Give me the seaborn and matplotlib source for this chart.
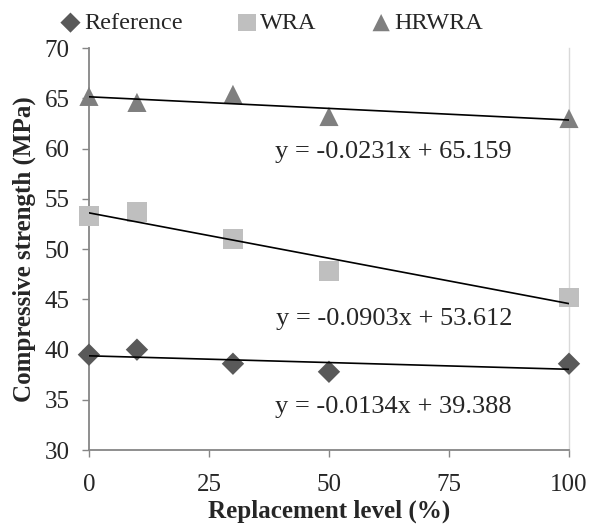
import numpy as np
import pandas as pd
import matplotlib
matplotlib.use("Agg")
import matplotlib.pyplot as plt
import seaborn as sns

# data
levels = [0, 10, 30, 50, 100]
reference = [39.5, 40.0, 38.6, 37.8, 38.6]
wra = [53.3, 53.7, 51.0, 47.8, 45.2]
hrwra = [65.2, 64.6, 65.4, 63.2, 63.0]

# trendline coefficients as printed (slope, intercept)
fits = {
    "Reference": (-0.0134, 39.388),
    "WRA": (-0.0903, 53.612),
    "HRWRA": (-0.0231, 65.159),
}
eq_pos = {"Reference": (63.5, 34.3), "WRA": (63.5, 43.1), "HRWRA": (63.5, 59.7)}

df = pd.DataFrame({
    "level": levels * 3,
    "strength": reference + wra + hrwra,
    "series": ["Reference"] * 5 + ["WRA"] * 5 + ["HRWRA"] * 5,
})

sns.set_style("white")
plt.rcParams["font.family"] = ["Liberation Serif", "DejaVu Serif"]

colors = {"Reference": "#595959", "WRA": "#bfbfbf", "HRWRA": "#7f7f7f"}
markers = {"Reference": "D", "WRA": "s", "HRWRA": "^"}
sizes = {"Reference": 130, "WRA": 200, "HRWRA": 190}

fig = plt.figure(figsize=(5.89, 5.29), dpi=100)
ax = fig.add_axes([0.151, 0.149, 0.815, 0.760])

for name in ["Reference", "WRA", "HRWRA"]:
    sub = df[df["series"] == name]
    sns.scatterplot(data=sub, x="level", y="strength", marker=markers[name],
                    color=colors[name], s=sizes[name], edgecolor="none",
                    ax=ax, label=name, zorder=3, clip_on=False)
    slope, intercept = fits[name]
    xs = np.array([min(levels), max(levels)])
    ax.plot(xs, slope * xs + intercept, color="black", lw=1.2, zorder=4)
    ex, ey = eq_pos[name]
    ax.text(ex, ey, f"y = {slope}x + {intercept}", fontsize=19,
            ha="center", va="center")

ax.set_xlim(0, 100)
ax.set_ylim(30, 70)
ax.set_xticks([0, 25, 50, 75, 100])
ax.set_yticks(range(30, 71, 5))
ax.tick_params(axis="both", labelsize=18, direction="out", length=5,
               width=1, color="#868686")
ax.tick_params(axis="y", pad=9)
ax.tick_params(axis="x", pad=12)
ax.tick_params(left=True, bottom=True)

for side in ["left", "bottom"]:
    ax.spines[side].set_color("#868686")
    ax.spines[side].set_linewidth(1.3)
ax.spines["right"].set_color("#d9d9d9")
ax.spines["right"].set_linewidth(1)
ax.spines["top"].set_visible(False)

ax.set_xlabel("Replacement level (%)", fontsize=18, fontweight="bold", labelpad=3)
ax.set_ylabel("Compressive strength (MPa)", fontsize=18, fontweight="bold", labelpad=6)

ax.legend(loc="center", bbox_to_anchor=(272 / 589, 1 - 23 / 529),
          bbox_transform=fig.transFigure, ncol=3, frameon=False,
          fontsize=17.5, handlelength=0.8, handletextpad=0.15,
          columnspacing=2.25, markerscale=0.9, borderpad=0)

fig.savefig("out.png", dpi=100)
